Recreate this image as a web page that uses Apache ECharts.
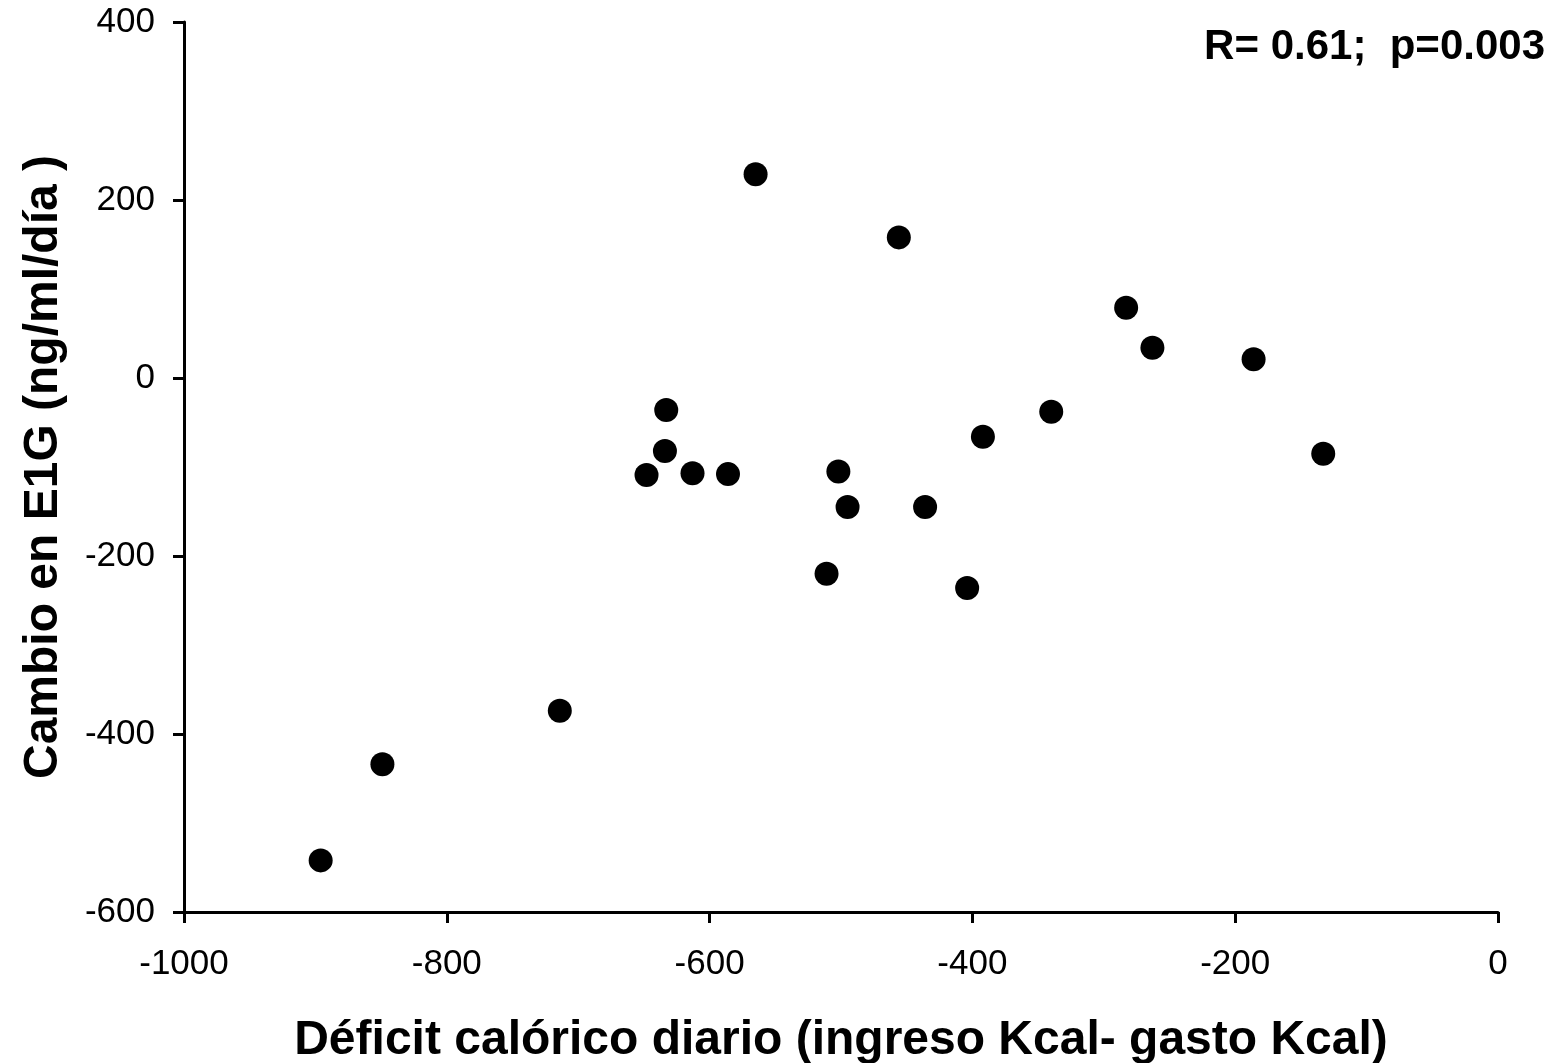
<!DOCTYPE html>
<html>
<head>
<meta charset="utf-8">
<script src="https://cdn.jsdelivr.net/npm/echarts@6/dist/echarts.min.js"></script>
<style>html,body{margin:0;padding:0;background:#fff;}#c{width:1556px;height:1063px;}</style>
</head>
<body>
<div id="c"></div>
<script>
const deficitKcal = [-896, -849, -714, -648, -634, -633, -613, -586, -565, -511, -502, -495, -456, -436, -404, -392, -340, -283, -263, -186, -133];
const cambioE1G  = [-542, -434, -374, -109, -82, -36, -107, -108, 229, -220, -105, -145, 158, -145, -236, -66, -38, 79, 34, 21, -85];
const xTitle = 'Déficit calórico diario (ingreso Kcal- gasto Kcal)';
const yTitle = 'Cambio en E1G (ng/ml/día )';
const annotation = 'R= 0.61;  p=0.003';

const points = deficitKcal.map((x, i) => [x, cambioE1G[i]]);
const chart = echarts.init(document.getElementById('c'), null, {renderer: 'canvas'});
const font = 'Liberation Sans, Arial, sans-serif';
const axisCommon = {
  axisLine: {show: true, onZero: false, lineStyle: {color: '#000', width: 3}},
  axisTick: {show: true, inside: false, length: 11, lineStyle: {color: '#000', width: 3}},
  splitLine: {show: false},
  nameTextStyle: {color: '#000', fontSize: 48, fontWeight: 'bold', fontFamily: font}
};
const labelStyle = {color: '#000', fontSize: 35, fontFamily: font, formatter: v => String(v)};
chart.setOption({
  animation: false,
  backgroundColor: '#fff',
  grid: {left: 184, right: 58, top: 22, bottom: 151, containLabel: false, outerBoundsMode: 'none'},
  xAxis: Object.assign({}, axisCommon, {
    type: 'value', min: -1000, max: 0, interval: 200,
    name: xTitle, nameLocation: 'middle', nameGap: 105,
    axisLabel: Object.assign({}, labelStyle, {margin: 35})
  }),
  yAxis: Object.assign({}, axisCommon, {
    type: 'value', min: -600, max: 400, interval: 200,
    name: yTitle, nameLocation: 'middle', nameGap: 116, nameRotate: 90,
    axisLabel: Object.assign({}, labelStyle, {margin: 29})
  }),
  series: [{
    type: 'scatter',
    data: points,
    symbol: 'circle',
    symbolSize: 24,
    itemStyle: {color: '#000', opacity: 1}
  }],
  graphic: [{
    type: 'text',
    right: 11, top: 26,
    style: {text: annotation, fill: '#000', font: 'bold 42px ' + font, textAlign: 'right'}
  }]
});
</script>
</body>
</html>
